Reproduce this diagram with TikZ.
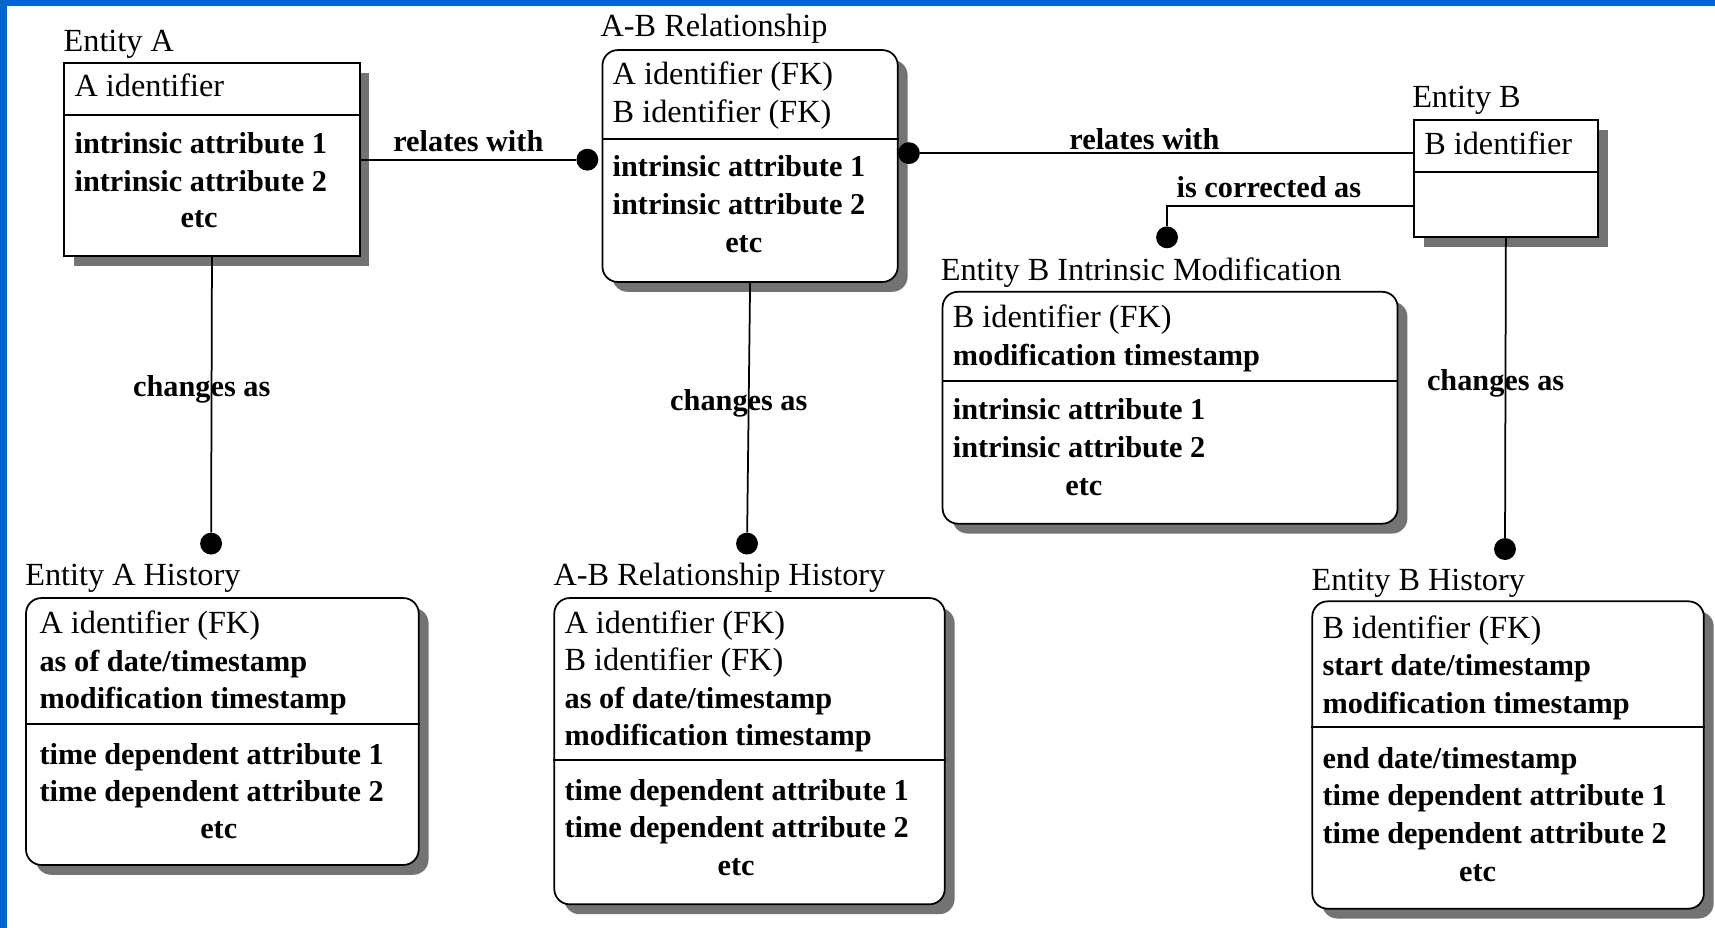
\documentclass[tikz,border=0pt]{standalone}
\usepackage{fontspec}
\setmainfont{Liberation Serif}
\usetikzlibrary{positioning,shadows}
\definecolor{frameblue}{RGB}{0,102,204}
\newcommand{\ident}[1]{{\fontsize{29.5}{34.3}\mdseries\selectfont #1}}

\tikzset{
	entity/.style={draw, fill=white, line width=1.6pt, inner sep=0pt, anchor=north west,
		drop shadow={shadow xshift=9pt, shadow yshift=-9pt, fill=black!55, opacity=1}},
	depentity/.style={entity, rounded corners=14pt},
	boxtitle/.style={anchor=base west, inner sep=0pt, font=\fontsize{29.5}{34.3}\selectfont},
	attrs/.style={anchor=base west, inner sep=0pt, align=left, font=\fontsize{27.7}{34.3}\bfseries\selectfont},
	etcnode/.style={anchor=base, inner sep=0pt, font=\fontsize{27.7}{34.3}\bfseries\selectfont},
	fkdot/.style={circle, fill=black, inner sep=0pt, minimum size=20pt},
	conn/.style={line width=1.6pt},
	rellabel/.style={above, inner sep=6pt, font=\fontsize{27.7}{34.3}\bfseries\selectfont},
	chglabel/.style={pos=.483, xshift=-9pt, inner sep=0pt, font=\fontsize{27.7}{34.3}\bfseries\selectfont}
}

\begin{document}
\begin{tikzpicture}[x=1pt, y=-1pt]
	\fill[white] (0,0) rectangle (1568,848);
	\useasboundingbox (0,0) rectangle (1568,848);
	\fill[frameblue] (0,0) rectangle (1568,5.5);
	\fill[frameblue] (0,0) rectangle (6.4,848);

	\node[entity, minimum width=270pt, minimum height=176pt] (entA) at (58,57) {};
	\node[depentity, minimum width=270pt, minimum height=212pt] (abRel) at (550,45) {};
	\node[entity, minimum width=168pt, minimum height=107pt] (entB) at (1292,109) {};
	\node[depentity, minimum width=416pt, minimum height=212pt] (entBMod) at (861,266) {};
	\node[depentity, minimum width=359pt, minimum height=244pt] (entAHist) at (23,546) {};
	\node[depentity, minimum width=357pt, minimum height=280pt] (abHist) at (506,546) {};
	\node[depentity, minimum width=358pt, minimum height=281pt] (entBHist) at (1199,549) {};

	\draw[conn] (entA.west |- 0,105) -- (entA.east |- 0,105);
	\draw[conn] (abRel.west |- 0,127) -- (abRel.east |- 0,127);
	\draw[conn] (entB.west |- 0,157) -- (entB.east |- 0,157);
	\draw[conn] (entBMod.west |- 0,348) -- (entBMod.east |- 0,348);
	\draw[conn] (entAHist.west |- 0,662) -- (entAHist.east |- 0,662);
	\draw[conn] (abHist.west |- 0,695) -- (abHist.east |- 0,695);
	\draw[conn] (entBHist.west |- 0,665) -- (entBHist.east |- 0,665);

	\node[boxtitle] (entAtitle) at (58,47) {Entity A};
	\node[boxtitle] (abRelTitle) at (549,33) {A-B Relationship};
	\node[boxtitle] (entBtitle) at (1291,98) {Entity B};
	\node[boxtitle] (entBModTitle) at (860,256) {Entity B Intrinsic Modification};
	\node[boxtitle] (entAHistTitle) at (23,535) {Entity A History};
	\node[boxtitle] (abHistTitle) at (506,535) {A-B Relationship History};
	\node[boxtitle] (entBHistTitle) at (1199,540) {Entity B History};

	\node[attrs] (entAkey) at (68,88) {\ident{A identifier}};
	\node[attrs] (entAatt) at (68,175) {intrinsic attribute 1\\intrinsic attribute 2};
	\node[etcnode] (entAetc) at (182,208) {etc};

	\node[attrs] (abRelKey) at (560,112) {\ident{A identifier (FK)}\\\ident{B identifier (FK)}};
	\node[attrs] (abRelAtt) at (560,196) {intrinsic attribute 1\\intrinsic attribute 2};
	\node[etcnode] (abRelEtc) at (680,231) {etc};

	\node[attrs] (entBkey) at (1302,141) {\ident{B identifier}};

	\node[attrs] (entBModKey) at (871,334) {\ident{B identifier (FK)}\\modification timestamp};
	\node[attrs] (entBModAtt) at (871,418) {intrinsic attribute 1\\intrinsic attribute 2};
	\node[etcnode] (entBModEtc) at (991,453) {etc};

	\node[attrs] (entAHistKey) at (36,648) {\ident{A identifier (FK)}\\as of date/timestamp\\modification timestamp};
	\node[attrs] (entAHistAtt) at (36,733) {time dependent attribute 1\\time dependent attribute 2};
	\node[etcnode] (entAHistEtc) at (200,767) {etc};

	\node[attrs] (abHistKey) at (516,682) {\ident{A identifier (FK)}\\\ident{B identifier (FK)}\\as of date/timestamp\\modification timestamp};
	\node[attrs] (abHistAtt) at (516,766) {time dependent attribute 1\\time dependent attribute 2};
	\node[etcnode] (abHistEtc) at (673,800) {etc};

	\node[attrs] (entBHistKey) at (1209,652) {\ident{B identifier (FK)}\\start date/timestamp\\modification timestamp};
	\node[attrs] (entBHistAtt) at (1209,771) {end date/timestamp\\time dependent attribute 1\\time dependent attribute 2};
	\node[etcnode] (entBHistEtc) at (1351,806) {etc};

	\node[fkdot] (abL) at (537,146) {};
	\node[fkdot] (abR) at (831,140) {};
	\node[fkdot] (modDot) at (1067,217) {};
	\node[fkdot] (entAHistDot) at (193,497) {};
	\node[fkdot] (abHistDot) at (683,497) {};
	\node[fkdot] (entBHistDot) at (1376,502) {};

	\draw[conn] (entA.east |- abL) -- node[rellabel] {relates with} (abL);
	\draw[conn] (abR) -- node[rellabel, pos=.455, yshift=-4pt] {relates with} (abR -| entB.west);
	\draw[conn] (entB.west |- 0,188) -| node[rellabel, pos=.293] {is corrected as} (modDot);
	\draw[conn] (entA.south) -- node[chglabel] {changes as} (entAHistDot);
	\draw[conn] (abRel.south) -- node[chglabel] {changes as} (abHistDot);
	\draw[conn] (entB.south) -- node[chglabel] {changes as} (entBHistDot);
\end{tikzpicture}
\end{document}
